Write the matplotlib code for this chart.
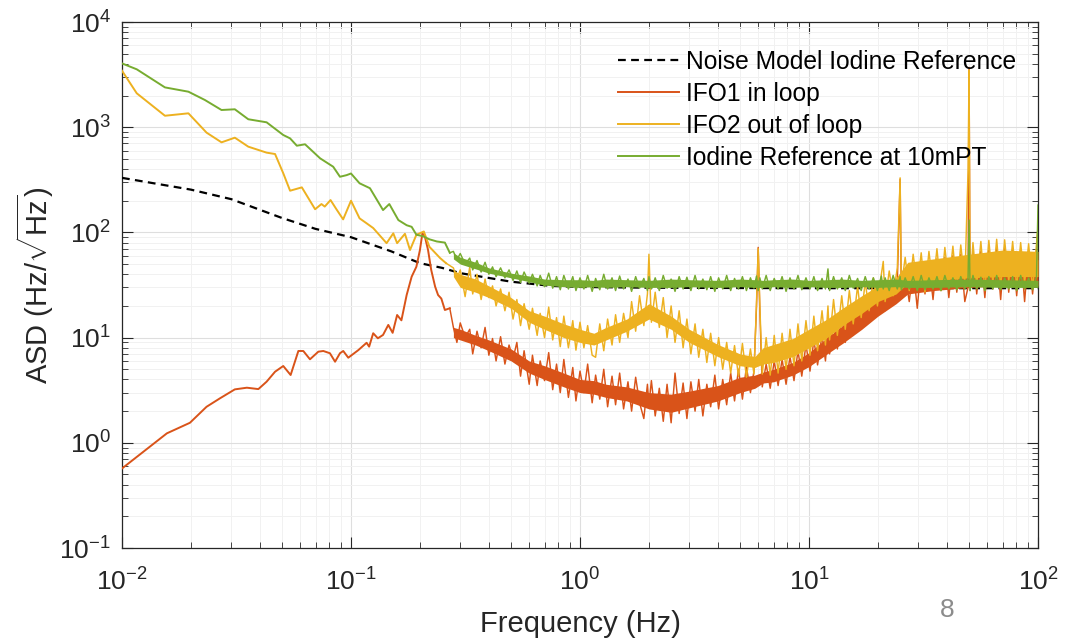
"""
ASD comparison: iodine reference noise model vs. IFO1 / IFO2 / iodine reference.
Log-log spectrum, MATLAB-like styling.
"""

import numpy as np
import matplotlib
matplotlib.use("Agg")
import matplotlib.pyplot as plt
from matplotlib.ticker import LogLocator, NullFormatter

# Noise model (dashed) --------------------------------------------------------
f_model = [0.01, 0.02, 0.03, 0.05, 0.07, 0.1, 0.15, 0.2, 0.25, 0.3, 0.5,
           0.75, 1.0, 2.0, 5.0, 10.0, 100.0]
asd_model = [330, 255, 207, 137, 108, 90, 66, 51, 46, 41, 34,
             31, 30.3, 29.8, 29.6, 29.5, 29.5]

# Low-frequency parts (below 0.28 Hz) -----------------------------------------
f_ifo1_lo = [0.01, 0.0157, 0.0198, 0.0234, 0.0268, 0.0311, 0.0351, 0.0394, 0.0428,
             0.0466, 0.0506, 0.0545, 0.0589, 0.0619, 0.0662, 0.072, 0.0757, 0.0809,
             0.0852, 0.0895, 0.0925, 0.0973, 0.1076, 0.117, 0.12, 0.125, 0.131,
             0.138, 0.1455, 0.152, 0.159, 0.166, 0.175, 0.184, 0.193, 0.200, 0.205,
             0.21, 0.217, 0.224, 0.233, 0.240, 0.248, 0.257, 0.27]
asd_ifo1_lo = [0.57, 1.23, 1.55, 2.2, 2.65, 3.22, 3.34, 3.24, 3.81,
               4.74, 5.37, 4.41, 7.46, 7.46, 6.22, 7.35, 7.46, 7.1,
               5.9, 7.1, 7.46, 6.44, 7.6, 8.93, 8.2, 11.0, 9.85,
               10.6, 13.2, 11.1, 16.4, 14.6, 25.4, 37.9, 47.2, 68, 98,
               92, 68, 44, 30.5, 25.4, 23.5, 18.3, 19]

f_ifo2_lo = [0.01, 0.0116, 0.0154, 0.0195, 0.0234, 0.0272, 0.0311, 0.0356, 0.0428,
             0.0466, 0.0506, 0.0542, 0.061, 0.0697, 0.0743, 0.0768, 0.0814, 0.0862,
             0.0924, 0.1, 0.109, 0.117, 0.125, 0.143, 0.153, 0.159, 0.172, 0.181,
             0.193, 0.208, 0.22, 0.245, 0.26]
asd_ifo2_lo = [3440, 2100, 1285, 1355, 888, 718, 795, 653, 573,
               556, 365, 249, 268, 166, 186, 176, 203, 167,
               133, 200, 136, 122, 110, 79, 98, 79, 97, 68,
               95, 102, 73, 57, 51]

f_iod_lo = [0.01, 0.0116, 0.0154, 0.0195, 0.023, 0.0272, 0.0311, 0.0356, 0.0428,
            0.0506, 0.0542, 0.058, 0.063, 0.0733, 0.0836, 0.0895, 0.0956, 0.1,
            0.109, 0.121, 0.138, 0.147, 0.161, 0.175, 0.184, 0.193, 0.206, 0.22,
            0.237, 0.257, 0.27]
asd_iod_lo = [4040, 3550, 2390, 2175, 1815, 1457, 1480, 1190, 1113,
              843, 783, 667, 688, 506, 421, 338, 350, 363,
              293, 263, 163, 186, 131, 117, 113, 95, 92, 86,
              82, 80, 64]

# Noisy high-frequency parts, shared frequency points (0.28 - 100 Hz) ---------
f_hi = [0.28, 0.29, 0.30, 0.315, 0.33, 0.34, 0.355, 0.37, 0.385, 0.40,
        0.415, 0.43, 0.45, 0.47, 0.49, 0.51, 0.53, 0.55, 0.57, 0.60,
        0.62, 0.65, 0.67, 0.70, 0.73, 0.76, 0.79, 0.82, 0.85, 0.89,
        0.93, 0.96, 1.0, 1.04, 1.08, 1.13, 1.17, 1.22, 1.27, 1.32,
        1.38, 1.43, 1.49, 1.55, 1.62, 1.68, 1.75, 1.82, 1.9, 1.97,
        2.0, 2.05, 2.13, 2.22, 2.31, 2.4, 2.5, 2.6, 2.71, 2.82,
        2.93, 3.05, 3.18, 3.3, 3.44, 3.58, 3.72, 3.88, 4.03, 4.2,
        4.37, 4.55, 4.73, 4.92, 5.12, 5.33, 5.55, 5.75, 5.9, 6.0,
        6.1, 6.25, 6.5, 6.77, 7.05, 7.33, 7.63, 7.94, 8.26, 8.6,
        8.95, 9.3, 9.7, 10.1, 10.5, 10.9, 11.4, 11.8, 12.1, 12.3,
        12.8, 13.3, 13.9, 14.4, 15.0, 15.6, 16.3, 16.9, 17.6, 18.3,
        19.1, 19.9, 20.7, 21.1, 21.5, 22.4, 23.3, 24.3, 25.0, 25.3,
        26.3, 27.4, 28.5, 29.7, 30.9, 32.1, 33.4, 34.8, 36.2, 37.7,
        39.2, 40.8, 42.5, 44.2, 46.0, 47.9, 49.5, 50.0, 50.5, 52,
        54, 56.3, 58.6, 61, 63.5, 66, 68.7, 71.5, 74.5, 77.5,
        80.7, 84, 87.4, 91, 94.7, 98.5, 100]

asd_ifo1_hi = [12.5, 9.0, 13.8, 10.0, 12.0, 7.0, 11.5, 8.0, 12.5, 6.8,
               9.8, 6.0, 10.2, 5.6, 8.5, 6.3, 9.0, 4.3, 7.5, 3.6,
               6.8, 3.5, 6.0, 3.9, 7.2, 3.2, 5.6, 3.0, 6.2, 2.7,
               5.2, 2.5, 4.8, 3.0, 5.6, 2.4, 4.4, 2.6, 5.0, 2.2,
               4.3, 2.3, 4.6, 2.1, 3.8, 2.0, 4.2, 2.4, 1.7, 3.6,
               2.3, 3.9, 1.8, 3.3, 1.6, 3.6, 1.55, 4.6, 1.9, 3.7,
               1.7, 3.8, 2.0, 4.0, 1.8, 3.6, 2.2, 4.4, 2.1, 4.0,
               2.3, 4.6, 2.5, 5.0, 2.6, 5.3, 3.0, 4.8, 20, 72,
               18, 3.4, 5.6, 3.3, 6.0, 3.5, 6.2, 3.6, 6.6, 3.9,
               7.5, 4.3, 8.6, 4.8, 9.5, 5.5, 10.5, 6.0, 12, 7.0,
               14, 7.8, 16, 9.0, 18.5, 10.5, 21, 12.5, 24, 15,
               27, 16, 30, 24, 18, 32, 21, 34, 320, 25,
               40, 22, 46, 19, 50, 26, 52, 23, 56, 28,
               58, 24, 60, 27, 62, 22, 30, 3700, 28, 64,
               26, 66, 24, 68, 29, 70, 23, 72, 27, 70,
               25, 68, 22, 66, 26, 64, 110]

asd_ifo2_hi = [46, 36, 44, 24.5, 47, 26, 40, 23, 36, 24,
               31, 20, 29, 18, 27, 15, 23, 13, 21, 12,
               19, 10.5, 17, 10, 19.5, 9.5, 15.5, 8.2, 16, 8.0,
               14.5, 7.6, 14, 8.0, 13, 6.8, 6.5, 13.5, 7.5, 15,
               8.5, 16.5, 9.0, 17, 10, 22, 11.5, 25, 13, 26,
               62, 14, 27, 12.5, 24, 10, 20, 9.0, 18, 8.0,
               15, 7.0, 13.5, 6.5, 12, 5.8, 11, 5.4, 10, 5.0,
               9.0, 4.6, 8.4, 4.3, 8.8, 4.2, 7.8, 4.5, 22, 70,
               20, 4.5, 10, 4.4, 10.5, 4.6, 11, 5.0, 12, 5.4,
               13.5, 6.0, 14.5, 6.8, 16, 7.5, 18, 8.5, 20, 9.5,
               23, 10.5, 25, 12, 28, 13.5, 31, 15.5, 34, 18,
               37, 20, 40, 53, 22, 43, 25, 46, 330, 30,
               58, 28, 62, 30, 64, 27, 66, 31, 70, 28,
               72, 32, 74, 29, 76, 33, 390, 3500, 30, 80,
               31, 82, 28, 84, 33, 86, 30, 85, 34, 82,
               30, 80, 33, 78, 29, 76, 113]

asd_iod_hi = [66, 55, 63, 50, 57, 44, 54, 42, 52, 40,
              47, 38, 46, 37, 44, 35, 43, 33.5, 42, 33,
              40, 31, 39, 30.5, 41, 29.5, 38, 28.5, 39, 29,
              38, 28, 37, 29, 39, 27.5, 36.5, 28.5, 40, 29,
              37, 28, 38.5, 29, 36, 27.5, 38, 29.5, 36.5, 28,
              38, 29, 37, 28, 39, 29.5, 36, 27.5, 38, 29,
              37.5, 28, 39, 29, 36, 28.5, 38, 27.5, 37, 29,
              39, 28, 36.5, 29, 38, 28, 37, 29.5, 38.5, 28,
              37, 29, 39, 28, 36.5, 29, 38, 27.5, 37, 29,
              39, 28.5, 37, 29, 38, 28, 36.5, 29, 45, 28,
              38, 29, 37, 28, 39, 29.5, 36.5, 28, 38, 29,
              37, 28, 38.5, 29, 37, 28, 39, 29, 38, 28.5,
              37, 29, 38, 28, 39, 28.5, 37, 29, 38, 28,
              39, 29, 37, 28.5, 38, 29, 37, 131, 28, 39,
              29, 37.5, 28, 38, 29, 39, 28.5, 37, 29, 38,
              28, 39, 29, 37, 28.5, 38, 182]

# Dense core of each noise band (lower / upper edge) --------------------------
f_band = [0.28, 0.3, 0.35, 0.4, 0.5, 0.6, 0.7, 0.85, 1.0, 1.15,
          1.3, 1.6, 2.0, 2.5, 3.0, 4.0, 5.0, 5.8, 6.3, 7.0,
          8.5, 10, 12, 14, 17, 20, 24, 27, 35, 50,
          70, 100]
ifo1_band_lo = [10, 9.5, 8.5, 7.5, 6, 4.6, 4.0, 3.4, 3.0, 2.9,
                2.7, 2.5, 2.1, 1.95, 2.15, 2.5, 3.0, 3.3, 3.7, 3.8,
                4.4, 5.3, 7.0, 8.8, 12, 16, 21, 26, 28, 30,
                31, 31]
ifo1_band_hi = [12.5, 12, 10.5, 9.5, 7.8, 6, 5.4, 4.6, 4.0, 3.9,
                3.6, 3.4, 3.0, 2.9, 3.1, 3.5, 4.2, 4.4, 4.7, 5.0,
                5.8, 7.2, 10, 13, 18, 24, 30, 38, 45, 52,
                55, 55]
ifo2_band_lo = [38, 30, 27, 24, 19, 14, 12, 10, 9, 8.5,
                9.5, 11.5, 15, 12, 9, 6.6, 5.4, 5.2, 5.6, 5.8,
                6.6, 8, 10, 13, 17, 22, 26, 33, 35, 37,
                38, 38]
ifo2_band_hi = [44, 40, 36, 31, 24, 18, 16, 13.5, 12, 11,
                12.5, 15, 21, 16, 12, 8.6, 7.0, 6.6, 8, 8.6,
                9.8, 12, 15, 19, 25, 31, 37, 52, 56, 62,
                68, 66]
iod_band_lo = [56, 50, 45, 41, 37, 34, 31.5, 30.5, 30, 30.5,
               30, 30.5, 30, 30, 30.5, 30, 30.5, 30, 30, 30.5,
               30, 30.5, 30, 30, 30.5, 30, 30.5, 30, 30, 30.5,
               30, 30]
iod_band_hi = [64, 58, 52, 46, 41, 38.5, 36, 35.5, 35.5, 35,
               36, 35.5, 35, 36, 35.5, 35, 36, 35.5, 35, 35.5,
               36, 35, 35.5, 36, 35, 35.5, 36, 35, 35.5, 36,
               35.5, 35]

labels = ["Noise Model Iodine Reference", "IFO1 in loop",
          "IFO2 out of loop", "Iodine Reference at 10mPT"]
colors = ["black", "#D95319", "#EDB120", "#77AC30"]


def main():
    plt.rcParams["font.family"] = ["Liberation Sans", "DejaVu Sans"]
    plt.rcParams["mathtext.fontset"] = "custom"
    plt.rcParams["mathtext.rm"] = "Liberation Sans"
    plt.rcParams["mathtext.it"] = "Liberation Sans:italic"
    plt.rcParams["mathtext.bf"] = "Liberation Sans:bold"

    W, H = 1087, 642
    fig = plt.figure(figsize=(W / 100, H / 100), dpi=100)
    ax = fig.add_axes([122 / W, 94 / H, 916 / W, 526 / H])

    series = [
        (f_ifo1_lo, asd_ifo1_lo, asd_ifo1_hi, ifo1_band_lo, ifo1_band_hi),
        (f_ifo2_lo, asd_ifo2_lo, asd_ifo2_hi, ifo2_band_lo, ifo2_band_hi),
        (f_iod_lo, asd_iod_lo, asd_iod_hi, iod_band_lo, iod_band_hi),
    ]

    ax.loglog(f_model, asd_model, color=colors[0], lw=1.6,
              ls=(0, (3.5, 2.4)), label=labels[0], zorder=3)
    for i, (f_lo, a_lo, a_hi, lo, hi) in enumerate(series):
        z = 4 + i
        c = colors[i + 1]
        # smooth low-frequency part carries the legend entry
        ax.loglog(f_lo, a_lo, color=c, lw=1.4, label=labels[i + 1], zorder=z)
        # noisy part: dense core + thinner jagged trace on top
        ax.fill_between(f_band, lo, hi, color=c, lw=0, zorder=z)
        ax.loglog(f_lo[-1:] + f_hi, a_lo[-1:] + a_hi, color=c, lw=1.05, zorder=z)

    ax.set_xlim(1e-2, 1e2)
    ax.set_ylim(1e-1, 1e4)

    for axis in (ax.xaxis, ax.yaxis):
        axis.set_major_locator(LogLocator(base=10, numticks=20))
        axis.set_minor_locator(LogLocator(base=10, subs=np.arange(2, 10), numticks=100))
        axis.set_minor_formatter(NullFormatter())

    ax.grid(True, which="major", color="#dedede", lw=0.8)
    ax.grid(True, which="minor", color="#f1f1f1", lw=0.7)
    ax.set_axisbelow(True)

    ax.tick_params(which="both", direction="in", top=True, right=True,
                   colors="#262626", labelsize=19)
    ax.tick_params(which="major", length=8, width=0.8)
    ax.tick_params(which="minor", length=4, width=0.6)
    ax.tick_params(axis="x", pad=15)
    ax.tick_params(axis="y", pad=8)
    for s in ax.spines.values():
        s.set_color("#262626")
        s.set_linewidth(0.9)

    ax.set_xlabel("Frequency (Hz)", fontsize=21, color="#262626", labelpad=10)
    ax.set_ylabel(r"ASD (Hz/$\sqrt{\mathrm{Hz}}$)", fontsize=21,
                  color="#262626", labelpad=2)

    ax.legend(loc="upper left", bbox_to_anchor=(618 / W, 1 - 50 / H),
              bbox_transform=fig.transFigure, frameon=False, fontsize=17.7,
              handlelength=2.5, handletextpad=0.25, labelspacing=0.32,
              borderpad=0, borderaxespad=0)

    fig.text(947 / W, 1 - 610 / H, "8", color="#8c8c8c", fontsize=19,
             ha="center", va="center")

    fig.savefig("out.png", dpi=100)


if __name__ == "__main__":
    main()
